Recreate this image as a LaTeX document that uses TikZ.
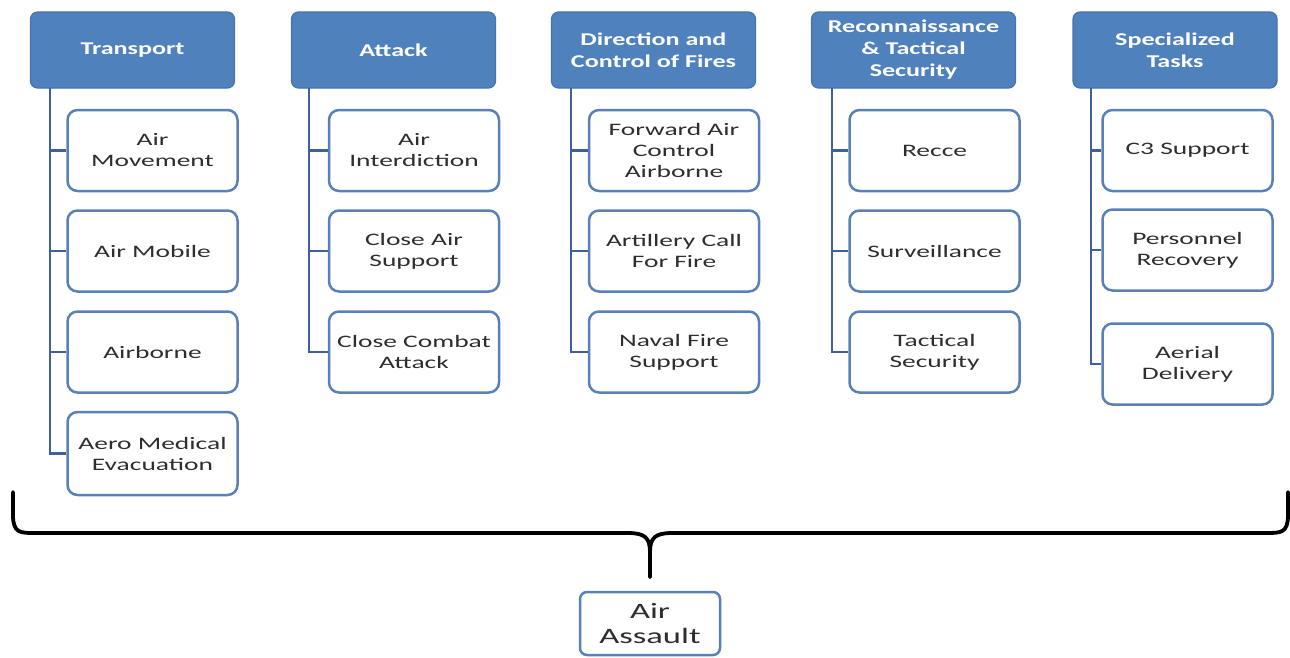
\documentclass[tikz,border=0pt]{standalone}
\usepackage{fontspec}
\newfontfamily\childfont{Carlito}[FakeStretch=1.57]
\newfontfamily\headfont{Carlito}[FakeStretch=1.45]
\definecolor{headblue}{HTML}{4F81BD}
\definecolor{headedge}{HTML}{4573AE}
\definecolor{boxedge}{HTML}{5A80B8}
\definecolor{linkblue}{HTML}{3F609B}
\definecolor{txtgray}{HTML}{2E2E2E}
\tikzset{
  headbox/.style={draw=headedge, line width=1.2pt, fill=headblue, rounded corners=7pt,
    minimum width=204, minimum height=76, inner sep=0pt, align=center,
    text=white, font=\headfont\bfseries\fontsize{18}{22}\selectfont},
  childbox/.style={draw=boxedge, line width=2.5pt, fill=white, rounded corners=10pt,
    minimum width=170, minimum height=81, inner sep=0pt, align=center,
    text=txtgray, font=\childfont\fontsize{17.5}{21}\selectfont},
  link/.style={draw=linkblue, line width=2.8pt},
  bracestroke/.style={draw=black, line width=3.8pt, line cap=round, line join=round}
}
\begin{document}
\begin{tikzpicture}[x=1pt,y=-1pt]
\useasboundingbox (0,0) rectangle (1290,657);
\fill[white] (0,0) rectangle (1290,657);

% headers
\node[headbox] (h1) at (132.5,50) {Transport};
\node[headbox] (h2) at (393.5,50) {Attack};
\node[headbox] (h3) at (653.5,50) {Direction and\\Control of Fires};
\node[headbox] (h4) at (913.5,50) {Reconnaissance\\\& Tactical\\Security};
\node[headbox] (h5) at (1175,50) {Specialized\\Tasks};

% Transport
\node[childbox] (c11) at (152.5,150.5) {Air\\Movement};
\node[childbox] (c12) at (152.5,251) {Air Mobile};
\node[childbox] (c13) at (152.5,352) {Airborne};
\node[childbox, minimum height=83] (c14) at (152.5,453.5) {Aero Medical\\Evacuation};
% Attack
\node[childbox] (c21) at (414,150.5) {Air\\Interdiction};
\node[childbox] (c22) at (414,251) {Close Air\\Support};
\node[childbox] (c23) at (414,352) {Close Combat\\Attack};
% Direction
\node[childbox] (c31) at (674,150.5) {Forward Air\\Control\\Airborne};
\node[childbox] (c32) at (674,251) {Artillery Call\\For Fire};
\node[childbox] (c33) at (674,352) {Naval Fire\\Support};
% Recon
\node[childbox] (c41) at (934.5,150.5) {Recce};
\node[childbox] (c42) at (934.5,251) {Surveillance};
\node[childbox] (c43) at (934.5,352) {Tactical\\Security};
% Specialized
\node[childbox] (c51) at (1187.5,150.5) {C3 Support};
\node[childbox] (c52) at (1187.5,250) {Personnel\\Recovery};
\node[childbox] (c53) at (1187.5,364) {Aerial\\Delivery};

% connectors
\coordinate (v1) at (50,88);
\coordinate (v2) at (309,88);
\coordinate (v3) at (571,88);
\coordinate (v4) at (832,88);
\coordinate (v5) at (1091,88);

\draw[link] (v1) |- (c14.west);
\draw[link] (c11.west) -- (c11.west -| v1);
\draw[link] (c12.west) -- (c12.west -| v1);
\draw[link] (c13.west) -- (c13.west -| v1);

\draw[link] (v2) |- (c23.west);
\draw[link] (c21.west) -- (c21.west -| v2);
\draw[link] (c22.west) -- (c22.west -| v2);

\draw[link] (v3) |- (c33.west);
\draw[link] (c31.west) -- (c31.west -| v3);
\draw[link] (c32.west) -- (c32.west -| v3);

\draw[link] (v4) |- (c43.west);
\draw[link] (c41.west) -- (c41.west -| v4);
\draw[link] (c42.west) -- (c42.west -| v4);

\draw[link] (v5) |- (c53.west);
\draw[link] (c51.west) -- (c51.west -| v5);
\draw[link] (c52.west) -- (c52.west -| v5);

% bottom node
\node[childbox, minimum width=140, minimum height=63, rounded corners=7pt,
  font=\childfont\fontsize{22}{25}\selectfont] (aa) at (650,623.5) {Air\\Assault};

% brace
\coordinate (bl) at (13,492);
\coordinate (br) at (1288,492);
\coordinate (tip) at (650,577);
\draw[bracestroke] (bl) -- (13,515) .. controls (13,533) and (20,533) .. (35,533)
  -- (628,533) .. controls (645,533) and (650,538) .. (650,552) -- (tip);
\draw[bracestroke] (br) -- (1288,515) .. controls (1288,533) and (1281,533) .. (1266,533)
  -- (672,533) .. controls (655,533) and (650,538) .. (650,552) -- (tip);
\end{tikzpicture}
\end{document}
